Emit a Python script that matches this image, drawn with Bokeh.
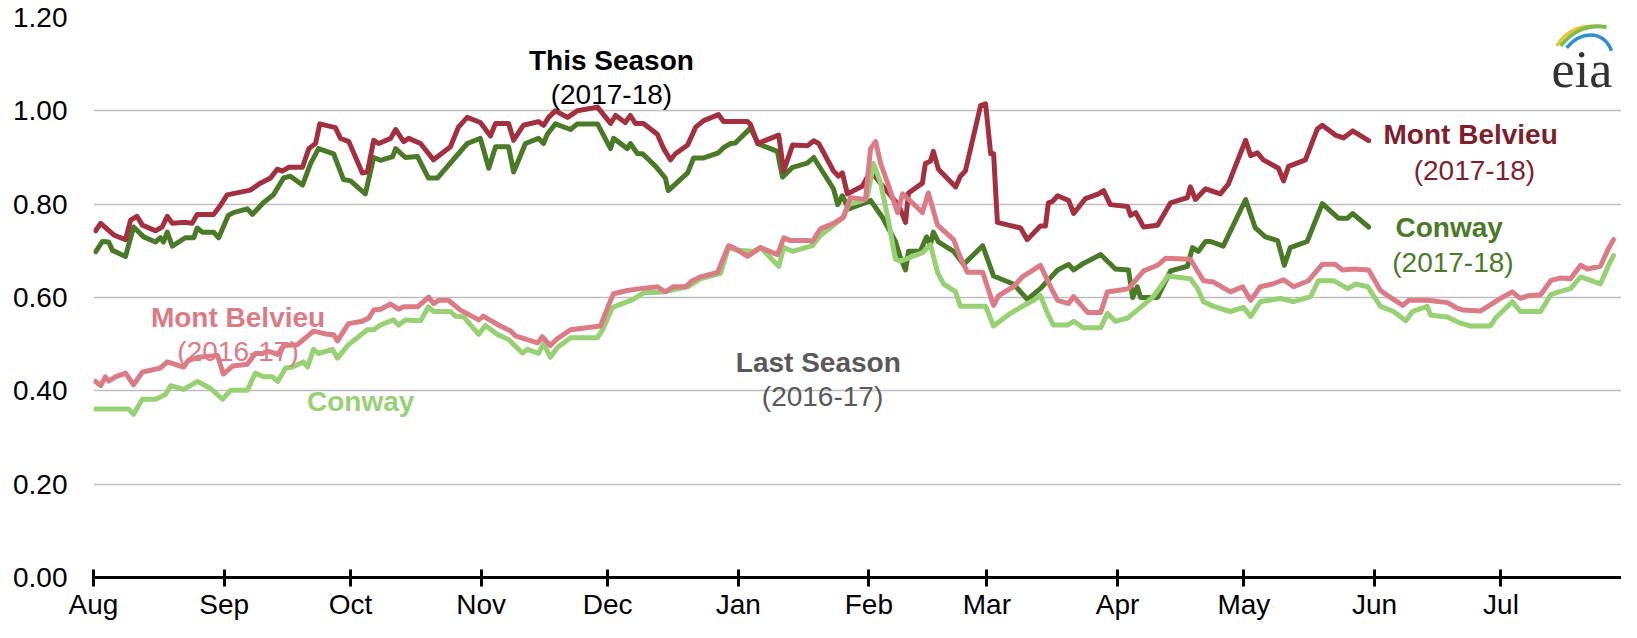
from bokeh.plotting import figure
from bokeh.models import Range1d, FixedTicker, PrintfTickFormatter, Label
from bokeh.embed import file_html
from bokeh.resources import INLINE

# ---------------- data ----------------
month_labels = ["Aug", "Sep", "Oct", "Nov", "Dec", "Jan", "Feb", "Mar", "Apr", "May", "Jun", "Jul", ""]
month_starts = [0, 31, 61, 92, 122, 153, 184, 212, 243, 273, 304, 334, 365]
y_ticks = [0.0, 0.2, 0.4, 0.6, 0.8, 1.0, 1.2]

# Mont Belvieu 2017-18 (day of season from Aug 1, $/gal)
mb18_day = [0.5, 1.7, 4.8, 7.6, 8.8, 10.3, 11.6, 14.7, 16.3, 17.5, 18.7, 21.8, 23.4, 24.6, 28.5, 30.1, 31.7,
            37.2, 39.6, 42.0, 43.6, 44.8, 46.3, 49.6, 51.1, 52.7, 53.7, 57.4, 58.6, 60.6, 63.8, 65.0, 66.5,
            67.7, 70.5, 71.7, 73.6, 74.8, 77.6, 80.7, 84.7, 86.6, 88.7, 91.8, 94.2, 95.4, 98.5, 99.7, 102.0,
            105.6, 106.8, 108.0, 109.6, 112.5, 114.8, 119.6, 122.7, 123.9, 126.2, 127.4, 128.6, 130.5, 133.8,
            135.3, 136.9, 138.1, 141.0, 142.9, 144.8, 148.3, 149.5, 155.2, 155.9, 157.6, 162.6, 163.8, 165.9,
            169.4, 170.9, 172.1, 175.6, 176.8, 177.7, 178.9, 182.5, 184.4, 191.1, 192.7, 193.4, 196.7, 197.4,
            198.6, 199.3, 200.5, 204.6, 205.7, 206.9, 210.5, 211.7, 212.9, 213.6, 214.5, 217.1, 220.0, 221.6,
            224.7, 225.9, 226.6, 227.6, 228.8, 231.4, 232.6, 235.4, 238.5, 239.7, 241.3, 245.4, 246.1, 247.3,
            249.2, 252.5, 255.6, 259.6, 260.3, 261.5, 263.9, 267.4, 269.3, 273.4, 274.6, 276.2, 277.6, 281.2,
            282.4, 283.6, 287.6, 290.4, 291.6, 294.7, 296.6, 298.8, 302.6]
mb18_val = [0.743, 0.759, 0.734, 0.724, 0.766, 0.774, 0.755, 0.743, 0.751, 0.774, 0.759, 0.761, 0.759, 0.778,
            0.778, 0.797, 0.820, 0.830, 0.845, 0.856, 0.875, 0.871, 0.879, 0.879, 0.919, 0.930, 0.972, 0.964,
            0.941, 0.934, 0.867, 0.869, 0.937, 0.930, 0.941, 0.960, 0.934, 0.941, 0.930, 0.895, 0.923, 0.965,
            0.986, 0.975, 0.946, 0.973, 0.973, 0.937, 0.969, 0.977, 0.969, 0.986, 1.000, 0.986, 1.000, 1.008,
            0.973, 0.990, 0.975, 0.990, 0.973, 0.973, 0.950, 0.919, 0.895, 0.908, 0.927, 0.965, 0.979, 0.992,
            0.977, 0.977, 0.971, 0.930, 0.948, 0.871, 0.927, 0.925, 0.936, 0.930, 0.871, 0.860, 0.867, 0.822,
            0.839, 0.871, 0.797, 0.761, 0.824, 0.845, 0.887, 0.892, 0.913, 0.875, 0.837, 0.860, 0.871, 1.011,
            1.015, 0.908, 0.908, 0.761, 0.755, 0.749, 0.724, 0.753, 0.753, 0.803, 0.806, 0.818, 0.808, 0.780,
            0.812, 0.822, 0.829, 0.799, 0.795, 0.776, 0.782, 0.751, 0.755, 0.803, 0.814, 0.837, 0.810, 0.833,
            0.822, 0.843, 0.937, 0.904, 0.910, 0.895, 0.877, 0.850, 0.881, 0.895, 0.961, 0.969, 0.948, 0.942,
            0.957, 0.936]

# Conway 2017-18
cw18_day = [0.5, 2.1, 3.6, 4.5, 7.6, 9.5, 11.9, 14.7, 15.9, 16.6, 17.5, 18.7, 21.8, 23.8, 24.6, 25.8, 28.5,
            29.7, 32.0, 33.2, 36.5, 37.7, 40.3, 42.7, 45.1, 46.7, 49.6, 51.5, 53.4, 57.0, 59.3, 61.0, 64.5,
            66.5, 68.1, 71.0, 71.7, 74.0, 76.9, 79.5, 81.6, 88.7, 91.8, 93.8, 95.4, 98.5, 99.7, 102.5, 105.6,
            106.8, 107.7, 109.6, 113.2, 114.8, 119.6, 122.7, 123.4, 126.7, 127.4, 129.1, 130.3, 133.4, 135.7,
            136.4, 141.0, 142.4, 144.8, 148.3, 149.5, 151.2, 152.3, 155.9, 157.8, 162.3, 163.5, 165.9, 169.4,
            170.9, 172.5, 175.6, 176.6, 177.7, 179.2, 183.2, 184.4, 187.2, 190.3, 191.5, 192.7, 193.4, 196.2,
            197.7, 198.6, 199.3, 200.5, 204.1, 206.5, 211.0, 213.6, 218.3, 221.6, 224.7, 228.8, 231.4, 232.6,
            234.9, 239.0, 242.5, 245.6, 246.6, 247.7, 248.5, 252.5, 255.6, 259.6, 260.8, 262.2, 263.9, 265.1,
            268.1, 273.4, 275.7, 278.1, 281.0, 282.6, 284.0, 288.0, 291.6, 295.4, 297.6, 298.8, 302.6]
cw18_val = [0.698, 0.720, 0.719, 0.701, 0.688, 0.751, 0.730, 0.719, 0.728, 0.719, 0.740, 0.710, 0.728, 0.728,
            0.749, 0.740, 0.740, 0.728, 0.776, 0.782, 0.790, 0.778, 0.803, 0.820, 0.856, 0.860, 0.841, 0.887,
            0.919, 0.908, 0.853, 0.850, 0.822, 0.900, 0.894, 0.902, 0.919, 0.900, 0.902, 0.856, 0.856, 0.930,
            0.941, 0.877, 0.923, 0.923, 0.869, 0.930, 0.941, 0.930, 0.950, 0.972, 0.960, 0.972, 0.972, 0.919,
            0.941, 0.919, 0.930, 0.908, 0.908, 0.881, 0.856, 0.829, 0.867, 0.899, 0.899, 0.910, 0.921, 0.930,
            0.931, 0.963, 0.929, 0.913, 0.858, 0.879, 0.888, 0.900, 0.877, 0.833, 0.799, 0.818, 0.790, 0.803,
            0.808, 0.772, 0.720, 0.685, 0.659, 0.699, 0.699, 0.730, 0.713, 0.740, 0.719, 0.699, 0.671, 0.711,
            0.646, 0.629, 0.596, 0.619, 0.659, 0.671, 0.659, 0.673, 0.692, 0.661, 0.659, 0.600, 0.623, 0.600,
            0.600, 0.657, 0.667, 0.707, 0.699, 0.720, 0.720, 0.710, 0.810, 0.749, 0.730, 0.722, 0.669, 0.707,
            0.720, 0.801, 0.770, 0.770, 0.780, 0.751]

# Mont Belvieu 2016-17
mb17_day = [0.5, 1.7, 2.8, 3.6, 5.2, 7.6, 9.5, 11.6, 15.9, 17.5, 21.4, 22.5, 24.9, 29.4, 30.8, 33.0, 36.5,
            38.4, 40.1, 41.3, 42.5, 43.7, 45.1, 48.4, 52.2, 55.1, 57.0, 57.9, 60.5, 63.8, 65.3, 66.5, 68.1,
            70.5, 72.4, 73.6, 76.9, 79.5, 80.7, 81.9, 84.2, 87.1, 91.4, 92.5, 96.1, 99.0, 100.1, 105.4, 106.5,
            108.4, 110.1, 113.2, 120.3, 122.7, 123.4, 126.7, 129.8, 133.8, 135.7, 137.6, 140.5, 142.1, 144.0,
            148.1, 150.7, 151.9, 155.2, 158.3, 162.3, 163.8, 165.4, 169.7, 170.6, 172.5, 175.6, 178.0, 179.6,
            183.2, 184.4, 185.6, 186.8, 188.7, 190.8, 192.0, 194.3, 196.7, 198.1, 200.3, 204.1, 205.7, 207.4,
            211.0, 213.6, 214.8, 218.3, 220.4, 224.7, 227.1, 228.8, 231.4, 232.6, 235.9, 239.0, 240.6, 243.0,
            245.6, 249.2, 252.5, 254.4, 260.3, 263.4, 265.8, 269.8, 272.7, 274.6, 276.9, 279.8, 282.4, 284.8,
            288.3, 291.6, 294.7, 296.4, 299.0, 302.6, 305.4, 307.1, 310.7, 312.1, 316.5, 321.3, 323.6, 325.0,
            329.1, 333.9, 336.7, 338.6, 340.5, 343.4, 345.8, 348.1, 350.5, 352.9, 354.5, 357.6, 359.5, 360.7]
mb17_val = [0.420, 0.411, 0.430, 0.421, 0.430, 0.438, 0.413, 0.440, 0.449, 0.462, 0.451, 0.465, 0.472, 0.476,
            0.436, 0.453, 0.457, 0.480, 0.480, 0.485, 0.482, 0.478, 0.497, 0.499, 0.528, 0.522, 0.520, 0.507,
            0.544, 0.549, 0.556, 0.573, 0.575, 0.586, 0.575, 0.580, 0.580, 0.601, 0.587, 0.594, 0.594, 0.573,
            0.552, 0.560, 0.541, 0.528, 0.518, 0.503, 0.516, 0.497, 0.512, 0.531, 0.539, 0.594, 0.608, 0.615,
            0.619, 0.623, 0.612, 0.623, 0.623, 0.636, 0.644, 0.654, 0.711, 0.707, 0.688, 0.707, 0.692, 0.728,
            0.722, 0.722, 0.720, 0.747, 0.759, 0.772, 0.814, 0.810, 0.919, 0.934, 0.887, 0.839, 0.782, 0.822,
            0.803, 0.782, 0.824, 0.755, 0.724, 0.686, 0.654, 0.654, 0.583, 0.604, 0.623, 0.644, 0.669, 0.623,
            0.594, 0.587, 0.602, 0.568, 0.568, 0.612, 0.615, 0.619, 0.657, 0.669, 0.684, 0.682, 0.636, 0.633,
            0.612, 0.623, 0.594, 0.623, 0.629, 0.638, 0.623, 0.636, 0.671, 0.671, 0.659, 0.661, 0.659, 0.615,
            0.604, 0.583, 0.594, 0.594, 0.589, 0.577, 0.573, 0.571, 0.598, 0.612, 0.598, 0.604, 0.606, 0.636,
            0.642, 0.640, 0.669, 0.661, 0.667, 0.705, 0.724]

# Conway 2016-17
cw17_day = [0.5, 8.3, 9.5, 11.6, 14.7, 17.1, 18.3, 21.4, 22.5, 24.7, 27.8, 30.6, 32.5, 36.5, 38.4, 40.3, 42.5,
            43.7, 45.6, 47.2, 49.8, 50.8, 52.2, 53.4, 56.7, 57.9, 60.5, 65.0, 66.5, 68.1, 71.2, 72.4, 74.0,
            77.6, 79.5, 80.7, 84.7, 85.9, 87.8, 91.4, 93.0, 95.8, 98.5, 101.8, 103.0, 105.6, 106.8, 108.4,
            110.1, 113.2, 119.6, 120.8, 123.2, 128.1, 130.5, 135.3, 141.0, 144.0, 148.8, 150.7, 152.8, 156.6,
            158.3, 162.6, 163.8, 165.9, 170.6, 172.5, 175.6, 177.7, 179.2, 182.7, 183.7, 185.1, 186.8, 188.7,
            190.3, 191.5, 196.7, 198.6, 200.3, 201.7, 204.6, 205.7, 211.7, 213.6, 217.6, 220.0, 223.1, 224.7,
            226.4, 227.8, 231.1, 232.6, 234.9, 239.0, 240.6, 242.5, 245.4, 247.7, 251.5, 253.2, 254.9, 260.3,
            262.0, 263.4, 265.8, 269.8, 272.9, 274.6, 276.9, 281.7, 284.8, 288.8, 290.7, 294.3, 297.6, 299.5,
            302.4, 305.4, 308.5, 311.4, 313.0, 316.5, 317.3, 321.3, 324.4, 326.8, 331.5, 332.7, 336.7, 338.6,
            343.4, 345.8, 347.7, 350.5, 352.9, 357.6, 359.3, 360.7]
cw17_val = [0.361, 0.361, 0.350, 0.382, 0.382, 0.392, 0.411, 0.403, 0.409, 0.420, 0.405, 0.382, 0.401, 0.401,
            0.438, 0.430, 0.430, 0.420, 0.449, 0.451, 0.462, 0.451, 0.489, 0.480, 0.489, 0.470, 0.499, 0.531,
            0.531, 0.541, 0.552, 0.541, 0.552, 0.550, 0.580, 0.570, 0.570, 0.560, 0.559, 0.521, 0.540, 0.521,
            0.510, 0.481, 0.489, 0.480, 0.502, 0.472, 0.493, 0.514, 0.514, 0.531, 0.579, 0.596, 0.610, 0.612,
            0.623, 0.640, 0.652, 0.707, 0.701, 0.699, 0.707, 0.667, 0.707, 0.699, 0.711, 0.733, 0.755, 0.770,
            0.799, 0.808, 0.818, 0.887, 0.845, 0.761, 0.682, 0.678, 0.696, 0.713, 0.654, 0.629, 0.612, 0.581,
            0.581, 0.539, 0.566, 0.579, 0.594, 0.604, 0.566, 0.541, 0.541, 0.549, 0.535, 0.535, 0.566, 0.549,
            0.556, 0.573, 0.602, 0.623, 0.646, 0.640, 0.619, 0.591, 0.581, 0.570, 0.579, 0.559, 0.591, 0.598,
            0.591, 0.602, 0.636, 0.636, 0.619, 0.629, 0.623, 0.581, 0.570, 0.550, 0.570, 0.581, 0.562, 0.558,
            0.545, 0.539, 0.539, 0.556, 0.591, 0.570, 0.570, 0.606, 0.612, 0.619, 0.644, 0.629, 0.665, 0.690]

# ---------------- styling ----------------
FONT = "Liberation Sans"
C_MB18 = "#a3303f"
C_MB18_TXT = "#7d1f2d"
C_CW18 = "#4a7a28"
C_MB17 = "#db7b86"
C_CW17 = "#98d074"
C_GRAY = "#595959"

# frame: left edge at 93px, 4.214 px per day (so the visible span ends a little before Jul 31)
p = figure(width=1621, height=622, output_backend="svg", toolbar_location=None,
           x_range=Range1d(0, 362.6), y_range=Range1d(0, 1.2),
           min_border_left=93, min_border_right=0, min_border_top=17, min_border_bottom=45)
p.outline_line_color = None
p.background_fill_color = "white"
p.border_fill_color = "white"

# axes
p.xaxis.ticker = FixedTicker(ticks=month_starts)
p.xaxis.major_label_overrides = {d: lab for d, lab in zip(month_starts, month_labels)}
p.xaxis.axis_line_width = 3
p.xaxis.axis_line_color = "black"
p.xaxis.major_tick_line_width = 3
p.xaxis.major_tick_line_color = "black"
p.xaxis.major_tick_in = 8
p.xaxis.major_tick_out = 9
p.xaxis.minor_tick_line_color = None
p.xaxis.major_label_text_font = FONT
p.xaxis.major_label_text_font_size = "28px"
p.xaxis.major_label_text_color = "black"
p.xaxis.major_label_standoff = 2

p.yaxis.ticker = FixedTicker(ticks=y_ticks)
p.yaxis.formatter = PrintfTickFormatter(format="%.2f")
p.yaxis.axis_line_color = None
p.yaxis.major_tick_line_color = None
p.yaxis.minor_tick_line_color = None
p.yaxis.major_tick_out = 0
p.yaxis.major_tick_in = 0
p.yaxis.major_label_text_font = FONT
p.yaxis.major_label_text_font_size = "28px"
p.yaxis.major_label_text_color = "black"
p.yaxis.major_label_standoff = 26

p.xgrid.grid_line_color = None
p.ygrid.ticker = FixedTicker(ticks=y_ticks)
p.ygrid.grid_line_color = "#bfbfbf"
p.ygrid.grid_line_width = 1.3

# lines
W = 5
p.line(cw18_day, cw18_val, line_color=C_CW18, line_width=W, line_join="round", line_cap="round")
p.line(mb18_day, mb18_val, line_color=C_MB18, line_width=W, line_join="round", line_cap="round")
p.line(cw17_day, cw17_val, line_color=C_CW17, line_width=W, line_join="round", line_cap="round")
p.line(mb17_day, mb17_val, line_color=C_MB17, line_width=W, line_join="round", line_cap="round")

# annotations
def lab(text, x, y, color, bold=False, size="28px", font=FONT):
    p.add_layout(Label(x=x, y=y, text=text, text_color=color, text_font=font,
                       text_font_size=size, text_font_style="bold" if bold else "normal",
                       text_align="center", text_baseline="alphabetic"))

lab("This Season", 122.9, 1.108, "black", bold=True)
lab("(2017-18)", 122.9, 1.034, "black")
lab("Mont Belvieu", 326.8, 0.950, C_MB18_TXT, bold=True)
lab("(2017-18)", 327.7, 0.873, C_MB18_TXT)
lab("Conway", 321.7, 0.749, C_CW18, bold=True)
lab("(2017-18)", 322.6, 0.675, C_CW18)
lab("Mont Belvieu", 34.3, 0.558, C_MB17, bold=True)
lab("(2016-17)", 34.3, 0.485, C_MB17)
lab("Conway", 63.4, 0.378, C_CW17, bold=True)
lab("Last Season", 172.0, 0.4615, C_GRAY, bold=True)
lab("(2016-17)", 173.0, 0.388, C_GRAY)

# eia logo (decoration), kept inside the canvas
def dx(px):
    return (px - 93) / 4.2137
def dy(py):
    return (590 - py) / 476.67

p.bezier(x0=[dx(1556)], y0=[dy(47)], x1=[dx(1596)], y1=[dy(27)], cx0=[dx(1566)], cy0=[dy(30)],
         cx1=[dx(1582)], cy1=[dy(25)], line_color="#f0c030", line_width=3)
p.bezier(x0=[dx(1560)], y0=[dy(47)], x1=[dx(1606)], y1=[dy(28)], cx0=[dx(1572)], cy0=[dy(31)],
         cx1=[dx(1590)], cy1=[dy(24)], line_color="#7dbb4a", line_width=4)
p.bezier(x0=[dx(1566)], y0=[dy(49)], x1=[dx(1611)], y1=[dy(52)], cx0=[dx(1580)], cy0=[dy(32)],
         cx1=[dx(1602)], cy1=[dy(30)], line_color="#2f8fd3", line_width=3.5)
p.add_layout(Label(x=dx(1551), y=dy(71), text="eia", text_color="#333333",
                   text_font="Liberation Serif", text_font_size="52px",
                   text_align="left", text_baseline="alphabetic"))

open("out.html", "w").write(file_html(p, INLINE))
